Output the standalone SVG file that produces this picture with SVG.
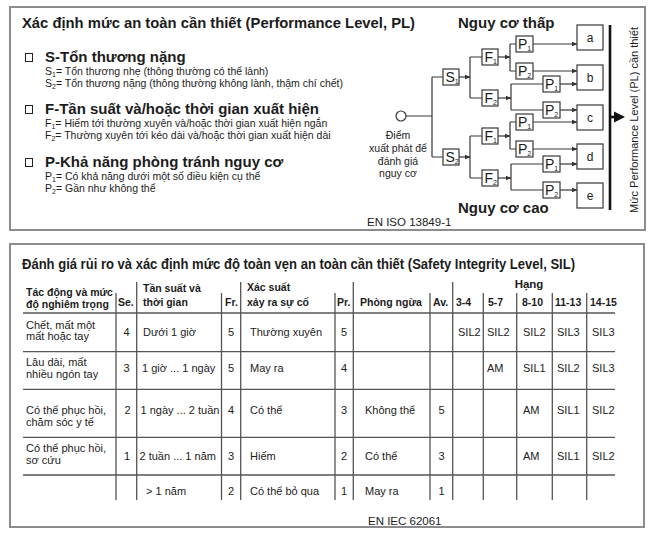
<svg xmlns="http://www.w3.org/2000/svg" width="654" height="535" viewBox="0 0 654 535">
<defs>
<style>
.t{font-family:"Liberation Sans",Arial,sans-serif;fill:#1c1c1c}
.b{font-weight:bold}
.s{font-size:10.5px}
.h{font-size:15px;font-weight:bold}
.sub{font-size:7px}
.ln{stroke:#383838;stroke-width:1.2;fill:none}
.bx{fill:#fff;stroke:#383838;stroke-width:1.2}
.frame{fill:#fff;stroke:#8c8c8c;stroke-width:2}
.tl{stroke:#555;stroke-width:1.3;fill:none}
.cb{fill:none;stroke:#222;stroke-width:1}
.bl{font-size:14px}
.th{font-size:10.5px;font-weight:bold}
.td{font-size:11px}
</style>
<marker id="ar" markerWidth="6" markerHeight="6" refX="5.5" refY="3" orient="auto" markerUnits="userSpaceOnUse"><path d="M0,0.6 L6,3 L0,5.4z" fill="#333"/></marker>
</defs>
<rect width="654" height="535" fill="#fff"/>

<g id="panel-pl">
<rect class="frame" x="10" y="7" width="635" height="223"/>
<text class="t h" x="22" y="28" textLength="393" lengthAdjust="spacingAndGlyphs">Xác định mức an toàn cần thiết (Performance Level, PL)</text>

<g id="legend-s">
<rect class="cb" x="25.5" y="53.5" width="7" height="8"/>
<text class="t h" x="45" y="62">S-Tổn thương nặng</text>
<text class="t s" x="45" y="75">S<tspan class="sub" dy="2">1</tspan><tspan dy="-2">= Tổn thương nhẹ (thông thường có thể lành)</tspan></text>
<text class="t s" x="45" y="87">S<tspan class="sub" dy="2">2</tspan><tspan dy="-2">= Tổn thương nặng (thông thường không lành, thậm chí chết)</tspan></text>
</g>
<g id="legend-f">
<rect class="cb" x="25.5" y="105.5" width="7" height="8"/>
<text class="t h" x="45" y="114">F-Tần suất và/hoặc thời gian xuất hiện</text>
<text class="t s" x="45" y="127">F<tspan class="sub" dy="2">1</tspan><tspan dy="-2">= Hiếm tới thường xuyên và/hoặc thời gian xuất hiện ngắn</tspan></text>
<text class="t s" x="45" y="139">F<tspan class="sub" dy="2">2</tspan><tspan dy="-2">= Thường xuyên tới kéo dài và/hoặc thời gian xuất hiện dài</tspan></text>
</g>
<g id="legend-p">
<rect class="cb" x="25.5" y="158.5" width="7" height="8"/>
<text class="t h" x="45" y="167">P-Khả năng phòng tránh nguy cơ</text>
<text class="t s" x="45" y="180">P<tspan class="sub" dy="2">1</tspan><tspan dy="-2">= Có khả năng dưới một số điều kiện cụ thể</tspan></text>
<text class="t s" x="45" y="192">P<tspan class="sub" dy="2">2</tspan><tspan dy="-2">= Gần như không thể</tspan></text>
</g>

<text class="t h" x="458" y="28">Nguy cơ thấp</text>
<text class="t h" x="458" y="213">Nguy cơ cao</text>
<text class="t" x="367" y="226" font-size="11.5">EN ISO 13849-1</text>

<g id="connectors">
<path class="ln" d="M406,116 H432 M432,77 V157 M432,77 H443 M432,157 H443"/>
<path class="ln" d="M470,57 V98 M470,57 H482 M470,98 H482 M510,44 V71 M510,44 H516 M510,71 H516 M511,84 V110 M511,84 H543 M511,110 H543"/>
<path class="ln" d="M470,136 V178 M470,136 H482 M470,178 H482 M510,122 V149 M510,122 H516 M510,149 H516 M511,164 V190 M511,164 H543 M511,190 H543"/>
<g marker-end="url(#ar)" class="ln">
<path d="M459,77 H470"/><path d="M498,57 H510"/><path d="M498,98 H511"/>
<path d="M459,157 H470"/><path d="M498,136 H510"/><path d="M498,178 H511"/>
<path d="M533,44 H577"/><path d="M533,71 H577"/><path d="M560,84 H577"/><path d="M560,110 H577"/>
<path d="M533,122 H577"/><path d="M533,149 H577"/><path d="M560,164 H577"/><path d="M560,190 H577"/>
</g>
<path d="M610,25 V210" stroke="#111" stroke-width="2.6" fill="none"/>
<path d="M610,117 H616" stroke="#111" stroke-width="2.6"/>
<polygon points="614,111.5 625,117 614,122.5" fill="#111"/>
</g>

<g id="start"><circle cx="401" cy="116" r="5" fill="#fff" stroke="#383838" stroke-width="1.2"/>
<text class="t s" text-anchor="middle"><tspan x="398" y="139">Điểm</tspan><tspan x="398" y="152">xuất phát để</tspan><tspan x="398" y="165">đánh giá</tspan><tspan x="398" y="177">nguy cơ</tspan></text>
</g>

<g id="node-s1"><rect class="bx" x="443" y="69" width="16" height="16"/><text class="t bl" x="445.5" y="82">S<tspan class="sub" dy="2">1</tspan></text></g>
<g id="node-s2"><rect class="bx" x="443" y="149" width="16" height="16"/><text class="t bl" x="445.5" y="162">S<tspan class="sub" dy="2">2</tspan></text></g>
<g id="node-s1f1"><rect class="bx" x="482" y="49" width="16" height="16"/><text class="t bl" x="484.5" y="62">F<tspan class="sub" dy="2">1</tspan></text></g>
<g id="node-s1f2"><rect class="bx" x="482" y="90" width="16" height="16"/><text class="t bl" x="484.5" y="103">F<tspan class="sub" dy="2">2</tspan></text></g>
<g id="node-s2f1"><rect class="bx" x="482" y="128" width="16" height="16"/><text class="t bl" x="484.5" y="141">F<tspan class="sub" dy="2">1</tspan></text></g>
<g id="node-s2f2"><rect class="bx" x="482" y="170" width="16" height="16"/><text class="t bl" x="484.5" y="183">F<tspan class="sub" dy="2">2</tspan></text></g>
<g id="node-p-a"><rect class="bx" x="516" y="36" width="17" height="16"/><text class="t bl" x="518" y="49">P<tspan class="sub" dy="2">1</tspan></text></g>
<g id="node-p-b1"><rect class="bx" x="516" y="63" width="17" height="16"/><text class="t bl" x="518" y="76">P<tspan class="sub" dy="2">2</tspan></text></g>
<g id="node-p-b2"><rect class="bx" x="543" y="76" width="17" height="16"/><text class="t bl" x="545" y="89">P<tspan class="sub" dy="2">1</tspan></text></g>
<g id="node-p-c1"><rect class="bx" x="543" y="102" width="17" height="16"/><text class="t bl" x="545" y="115">P<tspan class="sub" dy="2">2</tspan></text></g>
<g id="node-p-c2"><rect class="bx" x="516" y="114" width="17" height="16"/><text class="t bl" x="518" y="127">P<tspan class="sub" dy="2">1</tspan></text></g>
<g id="node-p-d1"><rect class="bx" x="516" y="141" width="17" height="16"/><text class="t bl" x="518" y="154">P<tspan class="sub" dy="2">2</tspan></text></g>
<g id="node-p-d2"><rect class="bx" x="543" y="156" width="17" height="16"/><text class="t bl" x="545" y="169">P<tspan class="sub" dy="2">1</tspan></text></g>
<g id="node-p-e"><rect class="bx" x="543" y="182" width="17" height="16"/><text class="t bl" x="545" y="195">P<tspan class="sub" dy="2">2</tspan></text></g>

<g id="node-a"><rect class="bx" x="577" y="25" width="26" height="25"/><text class="t" x="590" y="42" font-size="12" text-anchor="middle">a</text></g>
<g id="node-b"><rect class="bx" x="577" y="65" width="26" height="25"/><text class="t" x="590" y="82" font-size="12" text-anchor="middle">b</text></g>
<g id="node-c"><rect class="bx" x="577" y="105" width="26" height="25"/><text class="t" x="590" y="122" font-size="12" text-anchor="middle">c</text></g>
<g id="node-d"><rect class="bx" x="577" y="144" width="26" height="25"/><text class="t" x="590" y="161" font-size="12" text-anchor="middle">d</text></g>
<g id="node-e"><rect class="bx" x="577" y="183" width="26" height="25"/><text class="t" x="590" y="200" font-size="12" text-anchor="middle">e</text></g>

<text class="t" transform="translate(638,120) rotate(-90)" text-anchor="middle" font-size="10.5" textLength="186" lengthAdjust="spacingAndGlyphs">Mức Performance Level (PL) cần thiết</text>
</g>

<g id="panel-sil">
<rect class="frame" x="10" y="244" width="634" height="283"/>
<text class="t b" x="22" y="269" font-size="14" textLength="553" lengthAdjust="spacingAndGlyphs">Đánh giá rủi ro và xác định mức độ toàn vẹn an toàn cần thiết (Safety Integrity Level, SIL)</text>

<g id="table-lines" class="tl">
<path d="M23,313 H615 M23,351.7 H615 M23,389.3 H615 M23,437.3 H615 M23,475 H615"/>
<path d="M136.7,282 V500 M240.7,282 V500 M353.3,282 V500 M452.7,282 V500"/>
<path d="M116,293 V500 M221.5,293 V500 M335,293 V500 M430,293 V500 M483.3,293 V500 M516.7,293 V500 M552.3,293 V500 M586.7,293 V500"/>
</g>

<g id="table-header">
<text class="t th"><tspan x="26" y="295.5">Tác động và mức</tspan><tspan x="26" y="307.5">độ nghiêm trọng</tspan></text>
<text class="t th" x="118" y="306">Se.</text>
<text class="t th"><tspan x="143" y="292">Tần suất và</tspan><tspan x="143" y="306">thời gian</tspan></text>
<text class="t th" x="225" y="306">Fr.</text>
<text class="t th"><tspan x="247" y="291">Xác suất</tspan><tspan x="247" y="305.5">xảy ra sự cố</tspan></text>
<text class="t th" x="337" y="305.5">Pr.</text>
<text class="t th" x="360" y="305.5">Phòng ngừa</text>
<text class="t th" x="433" y="305.5">Av.</text>
<text class="t b" x="529" y="287.5" font-size="11.5" text-anchor="middle">Hạng</text>
<text class="t th" x="456" y="305.5">3-4</text>
<text class="t th" x="488" y="305.5">5-7</text>
<text class="t th" x="522" y="305.5">8-10</text>
<text class="t th" x="555" y="305.5">11-13</text>
<text class="t th" x="590" y="305.5">14-15</text>
</g>

<g id="table-body" class="t td">
<text><tspan x="26" y="329">Chết, mất một</tspan><tspan x="26" y="340">mất hoặc tay</tspan></text>
<text x="126.5" y="335.5" text-anchor="middle">4</text>
<text x="143" y="335.5">Dưới 1 giờ</text>
<text x="231" y="335.5" text-anchor="middle">5</text>
<text x="250" y="335.5">Thường xuyên</text>
<text x="344" y="335.5" text-anchor="middle">5</text>
<text x="458" y="335.5">SIL2</text><text x="487" y="335.5">SIL2</text><text x="523" y="335.5">SIL2</text><text x="557" y="335.5">SIL3</text><text x="592" y="335.5">SIL3</text>

<text><tspan x="26" y="366">Lâu dài, mất</tspan><tspan x="26" y="378">nhiều ngón tay</tspan></text>
<text x="126.5" y="372" text-anchor="middle">3</text>
<text x="142" y="372">1 giờ ... 1 ngày</text>
<text x="231" y="372" text-anchor="middle">5</text>
<text x="250" y="372">May ra</text>
<text x="344" y="372" text-anchor="middle">4</text>
<text x="487" y="372">AM</text><text x="523" y="372">SIL1</text><text x="557" y="372">SIL2</text><text x="592" y="372">SIL3</text>

<text><tspan x="26" y="414">Có thể phục hồi,</tspan><tspan x="26" y="426">chăm sóc y tế</tspan></text>
<text x="127.5" y="414" text-anchor="middle">2</text>
<text x="140.5" y="414">1 ngày ... 2 tuần</text>
<text x="231" y="414" text-anchor="middle">4</text>
<text x="250" y="414">Có thể</text>
<text x="344" y="414" text-anchor="middle">3</text>
<text x="365" y="414">Không thể</text>
<text x="441.5" y="414" text-anchor="middle">5</text>
<text x="523" y="414">AM</text><text x="557" y="414">SIL1</text><text x="592" y="414">SIL2</text>

<text><tspan x="26" y="451.5">Có thể phục hồi,</tspan><tspan x="26" y="464">sơ cứu</tspan></text>
<text x="127" y="460" text-anchor="middle">1</text>
<text x="139.5" y="460">2 tuần ... 1 năm</text>
<text x="231" y="460" text-anchor="middle">3</text>
<text x="250" y="460">Hiếm</text>
<text x="344" y="460" text-anchor="middle">2</text>
<text x="365" y="460">Có thể</text>
<text x="441.5" y="460" text-anchor="middle">3</text>
<text x="523" y="460">AM</text><text x="557" y="460">SIL1</text><text x="592" y="460">SIL2</text>

<text x="146" y="495">&gt; 1 năm</text>
<text x="231" y="495" text-anchor="middle">2</text>
<text x="250" y="495">Có thể bỏ qua</text>
<text x="344" y="495" text-anchor="middle">1</text>
<text x="365" y="495">May ra</text>
<text x="441.5" y="495" text-anchor="middle">1</text>
</g>
<text class="t" x="368" y="525" font-size="11.5">EN IEC 62061</text>
</g>
</svg>
